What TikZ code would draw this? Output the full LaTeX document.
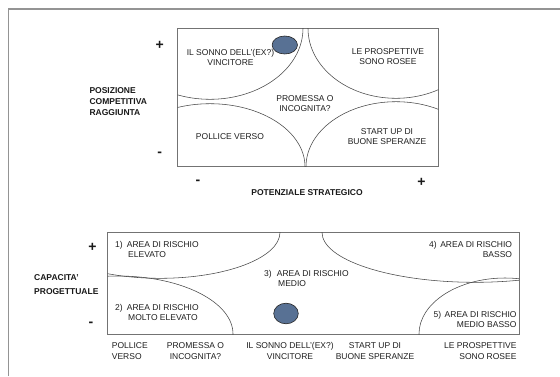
\documentclass[tikz,border=0pt]{standalone}
\usepackage{fontspec}
\setmainfont{Liberation Sans}
\definecolor{markerblue}{RGB}{88,113,148}
\begin{document}
\begin{tikzpicture}[x=1pt,y=-1pt,
  frame/.style={draw=black!42,line width=1.4pt},
  panel/.style={draw=black!55,line width=1pt},
  zone/.style={draw=black!72,line width=0.55pt},
  marker/.style={draw=black!85,fill=markerblue,line width=0.6pt},
  lbl/.style={inner sep=0pt,text=black!88,font=\fontsize{8.5}{10}\selectfont},
  lblw/.style={inner sep=0pt,text=black!88,font=\fontsize{8.5}{11}\selectfont},
  axis/.style={inner sep=0pt,text=black!90,font=\bfseries\fontsize{8.5}{11}\selectfont},
  sign/.style={inner sep=0pt,text=black!90,font=\bfseries\fontsize{14}{14}\selectfont}]
\useasboundingbox (0,0) rectangle (560,376);
\fill[white] (0,0) rectangle (560,376);

% page frame (top and left edges)
\draw[frame] (8.7,376) -- (8.7,9) -- (560,9);

% ---------- upper matrix ----------
\draw[panel] (177.7,28.3) rectangle (438.3,166.7);
\begin{scope}
  \clip (177.7,28.3) rectangle (438.3,166.7);
  \draw[zone] (210,28.3)  ellipse [x radius=93pt, y radius=71pt];
  \draw[zone] (396,28.3)  ellipse [x radius=88pt, y radius=70pt];
  \draw[zone] (210,166.7) ellipse [x radius=95pt, y radius=63pt];
  \draw[zone] (396,166.7) ellipse [x radius=90pt, y radius=65pt];
\end{scope}
\draw[marker] (284.8,45) ellipse [x radius=12.7pt, y radius=9pt];

\node[lbl,align=center,anchor=north] (q1) at (230.5,48.7) {IL SONNO DELL'(EX?)\\VINCITORE};
\node[lbl,align=center,anchor=north] (q2) at (388,48.7) {LE PROSPETTIVE\\SONO ROSEE};
\node[lbl,align=center,anchor=north] (q0) at (305,95.3) {PROMESSA O\\INCOGNITA?};
\node[lbl,anchor=north] (q3) at (230,133.7) {POLLICE VERSO};
\node[lbl,align=center,anchor=north] (q4) at (387,128.7) {START UP DI\\BUONE SPERANZE};

\node[axis,align=left,anchor=north west] (yaxisA) at (89.3,87.5) {POSIZIONE\\COMPETITIVA\\RAGGIUNTA};
\node[sign] (yplusA) at (159.6,45.7) {+};
\node[sign] (yminusA) at (159.6,154.2) {-};
\node[sign] (xminus) at (198,182.2) {-};
\node[sign] (xplus) at (421.4,182.7) {+};
\node[axis,anchor=north] (xaxis) at (307,189.7) {POTENZIALE STRATEGICO};

% ---------- lower risk map ----------
\draw[panel] (107.5,232.3) rectangle (519,334);
\begin{scope}
  \clip (107.5,232.3) rectangle (519,334);
  \draw[zone] (160,232.3) ellipse [x radius=120pt, y radius=46pt];
  \draw[zone] (118,334)   ellipse [x radius=115pt, y radius=58pt];
  \draw[zone] (475,232.3) ellipse [x radius=153pt, y radius=50pt];
  \draw[zone] (505,334)   ellipse [x radius=86pt,  y radius=56pt];
\end{scope}
\draw[marker] (286,313.5) ellipse [x radius=12.3pt, y radius=10.3pt];

\node[lbl,align=left,anchor=north west] (r1) at (115,241) {\makebox[11.7pt][l]{1)}AREA DI RISCHIO\\\hspace*{13pt}ELEVATO};
\node[lbl,align=left,anchor=north west] (r2) at (115,304.3) {\makebox[11.7pt][l]{2)}AREA DI RISCHIO\\\hspace*{13pt}MOLTO ELEVATO};
\node[lbl,align=left,anchor=north west] (r3) at (264,270.3) {\makebox[12.7pt][l]{3)}AREA DI RISCHIO\\\hspace*{14pt}MEDIO};
\node[lbl,align=right,anchor=north east] (r4) at (512.3,241) {4)\hspace{3.6pt}AREA DI RISCHIO\\BASSO};
\node[lbl,align=right,anchor=north east] (r5) at (516.7,311) {5)\hspace{3.6pt}AREA DI RISCHIO\\MEDIO BASSO};

\node[axis,align=left,anchor=north west] (yaxisB) at (34,274) {CAPACITA'\\[3pt]PROGETTUALE};
\node[sign] (yplusB) at (92.5,247) {+};
\node[sign] (yminusB) at (91,324.7) {-};

\node[lblw,align=left,anchor=north west] (c1) at (111.7,342) {POLLICE\\VERSO};
\node[lblw,align=center,anchor=north] (c2) at (195.5,342) {PROMESSA O\\INCOGNITA?};
\node[lblw,align=center,anchor=north] (c3) at (290,342) {IL SONNO DELL'(EX?)\\VINCITORE};
\node[lblw,align=center,anchor=north] (c4) at (375,342) {START UP DI\\BUONE SPERANZE};
\node[lblw,align=right,anchor=north east] (c5) at (516.7,342) {LE PROSPETTIVE\\SONO ROSEE};
\end{tikzpicture}
\end{document}
